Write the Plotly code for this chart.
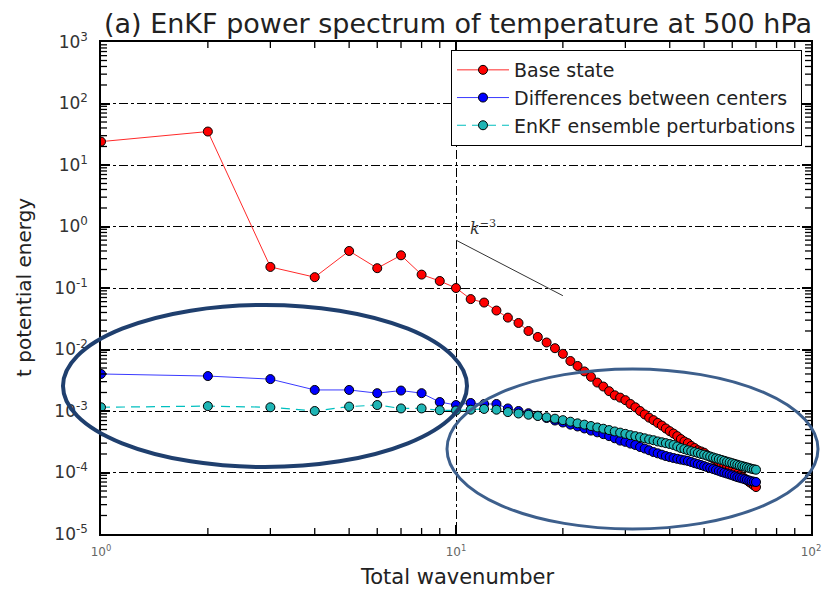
import math
import plotly.graph_objects as go

# ---------------- data ----------------
wavenumber = list(range(1, 71))

base_state = [
    24, 35, 0.22, 0.15, 0.40, 0.21, 0.34, 0.165, 0.13, 0.10,
    0.066, 0.058, 0.043, 0.033, 0.027, 0.020, 0.016, 0.013, 0.0105, 0.0085,
    0.0065, 0.0054, 0.0044, 0.0036, 0.0029, 0.0025, 0.0021, 0.0018, 0.00165, 0.0015,
    0.0013, 0.00115, 0.00100, 0.00088, 0.00078, 0.00071, 0.00064, 0.00058, 0.00052, 0.00047,
    0.00043, 0.00039, 0.00035, 0.00032, 0.00030, 0.00027, 0.00025, 0.00023, 0.00022, 0.00021,
    0.00019, 0.00018, 0.00017, 0.000158, 0.000148, 0.000138, 0.000130, 0.000122, 0.000115, 0.000108,
    0.000101, 0.000095, 0.000090, 0.000085, 0.000080, 0.000075, 0.000070, 0.000066, 0.000062, 0.000058,
]

diff_centers = [
    4.0e-3, 3.7e-3, 3.3e-3, 2.2e-3, 2.2e-3, 1.95e-3, 2.15e-3, 1.95e-3, 1.4e-3, 1.25e-3,
    1.35e-3, 1.3e-3, 1.3e-3, 1.1e-3, 1.0e-3, 9.2e-4, 8.4e-4, 7.7e-4, 7.0e-4, 6.5e-4,
    6.0e-4, 5.6e-4, 5.2e-4, 4.8e-4, 4.5e-4, 4.2e-4, 3.9e-4, 3.6e-4, 3.3e-4, 3.15e-4,
    2.95e-4, 2.8e-4, 2.6e-4, 2.45e-4, 2.3e-4, 2.15e-4, 2.05e-4, 1.95e-4, 1.85e-4, 1.78e-4,
    1.72e-4, 1.67e-4, 1.62e-4, 1.58e-4, 1.54e-4, 1.48e-4, 1.42e-4, 1.37e-4, 1.32e-4, 1.27e-4,
    1.22e-4, 1.18e-4, 1.14e-4, 1.10e-4, 1.06e-4, 1.02e-4, 9.9e-5, 9.6e-5, 9.3e-5, 9.0e-5,
    8.7e-5, 8.4e-5, 8.2e-5, 8.0e-5, 7.8e-5, 7.6e-5, 7.4e-5, 7.2e-5, 7.1e-5, 7.0e-5,
]

enkf_perturb = [
    1.15e-3, 1.2e-3, 1.15e-3, 1.0e-3, 1.18e-3, 1.25e-3, 1.1e-3, 1.1e-3, 1.03e-3, 1.02e-3,
    1.05e-3, 1.08e-3, 1.05e-3, 9.6e-4, 9.1e-4, 8.7e-4, 8.3e-4, 7.9e-4, 7.5e-4, 7.1e-4,
    6.7e-4, 6.3e-4, 6.0e-4, 5.7e-4, 5.4e-4, 5.15e-4, 4.9e-4, 4.65e-4, 4.45e-4, 4.25e-4,
    4.05e-4, 3.9e-4, 3.75e-4, 3.6e-4, 3.45e-4, 3.35e-4, 3.2e-4, 3.1e-4, 3.0e-4, 2.9e-4,
    2.8e-4, 2.65e-4, 2.5e-4, 2.4e-4, 2.3e-4, 2.22e-4, 2.15e-4, 2.08e-4, 2.0e-4, 1.95e-4,
    1.88e-4, 1.82e-4, 1.76e-4, 1.70e-4, 1.65e-4, 1.60e-4, 1.55e-4, 1.50e-4, 1.46e-4, 1.42e-4,
    1.38e-4, 1.34e-4, 1.30e-4, 1.27e-4, 1.24e-4, 1.21e-4, 1.18e-4, 1.15e-4, 1.13e-4, 1.11e-4,
]

slope_x = [10, 20]
slope_y = [0.6, 0.075]

x_tick_vals = [1, 10, 100]
x_tick_text = ["10<sup>0</sup>", "10<sup>1</sup>", "10<sup>2</sup>"]
y_tick_vals = [1e-5, 1e-4, 1e-3, 1e-2, 1e-1, 1, 10, 100, 1000]
y_tick_text = ["10<sup>-5</sup>", "10<sup>-4</sup>", "10<sup>-3</sup>", "10<sup>-2</sup>",
               "10<sup>-1</sup>", "10<sup>0</sup>", "10<sup>1</sup>", "10<sup>2</sup>",
               "10<sup>3</sup>"]

X_RANGE_EXP = (0, 2)
Y_RANGE_EXP = (-5, 3)

# minor tick positions: 2..9 within each decade
def minor_ticks(lo_exp, hi_exp):
    vals = []
    for e in range(lo_exp, hi_exp):
        for m in range(2, 10):
            vals.append(m * 10.0 ** e)
    return vals

x_minor = minor_ticks(*X_RANGE_EXP)
y_minor = minor_ticks(*Y_RANGE_EXP)

# ---------------- layout geometry (pixels) ----------------
W, H = 824, 589
L, R, T, B = 101, 13, 42, 55
PW, PH = W - L - R, H - T - B

def px(x):
    return (x - L) / PW

def py(y):
    return (H - B - y) / PH

def xfrac(v):
    lo, hi = X_RANGE_EXP
    return (math.log10(v) - lo) / (hi - lo)

def yfrac(v):
    lo, hi = Y_RANGE_EXP
    return (math.log10(v) - lo) / (hi - lo)

FONT = "DejaVu Sans"

fig = go.Figure()

marker_line = dict(color="black", width=1)

fig.add_trace(go.Scatter(
    x=wavenumber, y=base_state, mode="lines+markers", name="Base state",
    legendgroup="a",
    line=dict(color="#ff2a2a", width=1),
    marker=dict(color="#ff0000", size=9, line=marker_line),
))
fig.add_trace(go.Scatter(
    x=wavenumber, y=diff_centers, mode="lines+markers", name="Differences between centers",
    legendgroup="b",
    line=dict(color="#3a3aff", width=1),
    marker=dict(color="#0000ff", size=9, line=marker_line),
))
fig.add_trace(go.Scatter(
    x=wavenumber, y=enkf_perturb, mode="lines+markers", name="EnKF ensemble perturbations",
    legendgroup="c",
    line=dict(color="#00bfbf", width=1.2, dash="9px,6px"),
    marker=dict(color="#1fb5b5", size=9, line=marker_line),
))
fig.add_trace(go.Scatter(
    x=slope_x, y=slope_y, mode="lines", showlegend=False,
    line=dict(color="#333333", width=1),
    hoverinfo="skip",
))

axis_common = dict(
    type="log", automargin=False,
    showline=True, linecolor="black", linewidth=1.5, mirror="allticks",
    ticks="inside", ticklen=9, tickwidth=1.5, tickcolor="black",
    showgrid=True, gridcolor="black", gridwidth=1, griddash="dashdot",
    zeroline=False,
)

fig.update_layout(
    width=W, height=H,
    margin=dict(l=L, r=R, t=T, b=B, autoexpand=False),
    paper_bgcolor="white", plot_bgcolor="white",
    font=dict(family=FONT, color="#222222"),
    title=dict(
        text="(a) EnKF power spectrum of temperature at 500 hPa",
        x=px(458), xref="paper", xanchor="center",
        y=1 - 24 / H, yref="container", yanchor="middle",
        font=dict(size=27, family=FONT, color="#222222"),
    ),
    xaxis=dict(
        range=list(X_RANGE_EXP), tickmode="array", tickvals=x_tick_vals, ticktext=x_tick_text,
        tickfont=dict(size=12, color="#666666", family=FONT),
        ticklabelstandoff=6,
        **axis_common,
    ),
    yaxis=dict(
        range=list(Y_RANGE_EXP), tickmode="array", tickvals=y_tick_vals, ticktext=y_tick_text,
        tickfont=dict(size=17, color="#333333", family=FONT),
        ticklabelstandoff=8,
        **axis_common,
    ),
    legend=dict(
        x=px(802), y=py(50), xanchor="right", yanchor="top",
        bordercolor="black", borderwidth=1, bgcolor="white",
        font=dict(size=19, family=FONT, color="#222222"),
        tracegroupgap=0, itemwidth=52,
    ),
    showlegend=True,
)

# minor tick marks on all four sides (inside), in paper coordinates
MINOR_LEN = 6
tick_line = dict(color="black", width=1.3)
for v in x_minor:
    f = xfrac(v)
    fig.add_shape(type="line", xref="paper", yref="paper", x0=f, x1=f,
                  y0=0, y1=MINOR_LEN / PH, line=tick_line, layer="above")
    fig.add_shape(type="line", xref="paper", yref="paper", x0=f, x1=f,
                  y0=1, y1=1 - MINOR_LEN / PH, line=tick_line, layer="above")
for v in y_minor:
    f = yfrac(v)
    fig.add_shape(type="line", xref="paper", yref="paper", y0=f, y1=f,
                  x0=0, x1=MINOR_LEN / PW, line=tick_line, layer="above")
    fig.add_shape(type="line", xref="paper", yref="paper", y0=f, y1=f,
                  x0=1, x1=1 - MINOR_LEN / PW, line=tick_line, layer="above")

# axis titles and the slope label
fig.add_annotation(
    text="Total wavenumber", xref="paper", yref="paper",
    x=px(457), y=py(577), showarrow=False, xanchor="center", yanchor="middle",
    font=dict(size=21, family=FONT, color="#222222"),
)
fig.add_annotation(
    text="t potential energy", xref="paper", yref="paper",
    x=px(24), y=py(288), showarrow=False, textangle=-90,
    xanchor="center", yanchor="middle",
    font=dict(size=20, family=FONT, color="#222222"),
)
fig.add_annotation(
    text="<i>k</i><sup>−3</sup>", xref="x", yref="y",
    x=1.035, y=-0.02, showarrow=False, xanchor="left", yanchor="middle",
    font=dict(size=16, family="DejaVu Serif", color="#333333"),
)

# highlight ellipses
fig.add_shape(type="circle", xref="paper", yref="paper",
              x0=px(63), x1=px(467), y0=py(467), y1=py(305),
              line=dict(color="#1f3f6e", width=4), layer="above")
fig.add_shape(type="circle", xref="paper", yref="paper",
              x0=px(447), x1=px(818), y0=py(529), y1=py(369),
              line=dict(color="#3d5f8c", width=3), layer="above")

fig.write_html(
    "out.html",
    config={"displayModeBar": False},
    post_script="document.body.style.margin='0';document.body.style.padding='0';",
)
